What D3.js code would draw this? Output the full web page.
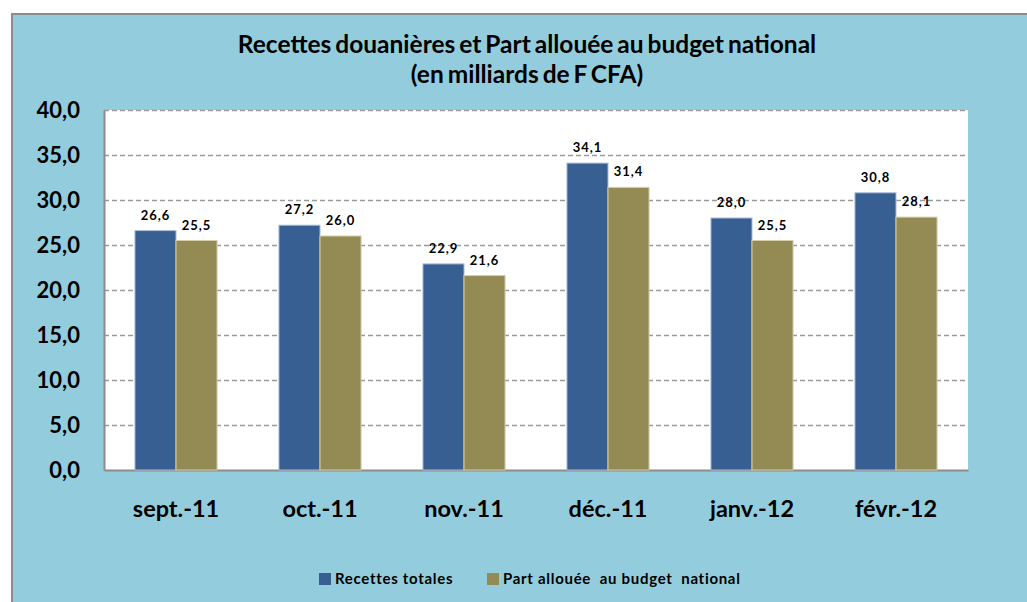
<!DOCTYPE html>
<html>
<head>
<meta charset="utf-8">
<script src="https://cdn.jsdelivr.net/npm/d3@7"></script>
<style>
  body { margin: 0; background: #ffffff; }
  text { font-family: Lato, "Open Sans", sans-serif; font-weight: bold; fill: #000; }
</style>
</head>
<body>
<div id="chart"></div>
<script>
// data
var months = ["sept.-11", "oct.-11", "nov.-11", "déc.-11", "janv.-12", "févr.-12"];
var seriesNames = ["Recettes totales", "Part allouée  au budget  national"];
var recettesTotales = [26.6, 27.2, 22.9, 34.1, 28.0, 30.8];
var partAllouee = [25.5, 26.0, 21.6, 31.4, 25.5, 28.1];
var yTicks = [0, 5, 10, 15, 20, 25, 30, 35, 40];
var colors = ["#375f91", "#948a54"];
var strokes = ["#a9bcd8", "#d4cfa8"];

var W = 1027, H = 602;
var plot = { left: 104, top: 110, right: 968, bottom: 470 };

var svg = d3.select("#chart").append("svg")
  .attr("width", W).attr("height", H);

// outer frame
svg.append("rect")
  .attr("x", 12).attr("y", 14)
  .attr("width", W + 10).attr("height", H)
  .attr("fill", "#93cddd")
  .attr("stroke", "#8c8c8c")
  .attr("stroke-width", 2);

// title
svg.append("text")
  .attr("x", 527).attr("y", 53)
  .attr("text-anchor", "middle")
  .attr("font-size", "24.5px")
  .attr("word-spacing", "-2px")
  .text("Recettes douanières et Part allouée au budget national");
svg.append("text")
  .attr("x", 527).attr("y", 83)
  .attr("text-anchor", "middle")
  .attr("font-size", "24.5px")
  .attr("word-spacing", "-2px")
  .text("(en milliards de F CFA)");

// plot area
svg.append("rect")
  .attr("x", plot.left).attr("y", plot.top)
  .attr("width", plot.right - plot.left)
  .attr("height", plot.bottom - plot.top)
  .attr("fill", "#ffffff");

var x0 = d3.scaleBand().domain(months)
  .range([plot.left, plot.right]).paddingInner(0.43).paddingOuter(0.215);
var x1 = d3.scaleBand().domain([0, 1])
  .range([0, x0.bandwidth()]).padding(0);
var y = d3.scaleLinear().domain([0, 40]).range([plot.bottom, plot.top]);

// gridlines
svg.append("g").selectAll("line")
  .data(yTicks.filter(function(d) { return d > 0; }))
  .enter().append("line")
  .attr("x1", plot.left).attr("x2", plot.right)
  .attr("y1", function(d) { return y(d) + 0.5; })
  .attr("y2", function(d) { return y(d) + 0.5; })
  .attr("stroke", "#9a9a9a")
  .attr("stroke-width", 1.5)
  .attr("stroke-dasharray", "5,3");

// y axis
var yAxis = d3.axisLeft(y).tickValues(yTicks).tickSize(0).tickPadding(24)
  .tickFormat(function(d) { return d3.format(".1f")(d).replace(".", ","); });
var gy = svg.append("g")
  .attr("transform", "translate(" + plot.left + ",0)")
  .call(yAxis);
gy.select(".domain").attr("stroke", "#8c8c8c").attr("stroke-width", 2);
gy.selectAll("text").attr("font-size", "22px").attr("dy", "0.35em")
  .style("font-family", "Lato, sans-serif").style("font-weight", "bold").attr("fill", "#000");

// x axis
var xAxis = d3.axisBottom(x0).tickSize(0).tickPadding(30);
var gx = svg.append("g")
  .attr("transform", "translate(0," + plot.bottom + ")")
  .call(xAxis);
gx.select(".domain").attr("stroke", "#8c8c8c").attr("stroke-width", 2);
gx.selectAll("text").attr("font-size", "23.5px")
  .style("font-family", "Lato, sans-serif").style("font-weight", "bold").attr("fill", "#000");

// bars
var series = [recettesTotales, partAllouee];
series.forEach(function(vals, s) {
  var g = svg.append("g");
  g.selectAll("rect").data(vals).enter().append("rect")
    .attr("x", function(d, i) { return x0(months[i]) + x1(s); })
    .attr("y", function(d) { return y(d); })
    .attr("width", x1.bandwidth())
    .attr("height", function(d) { return y(0) - y(d); })
    .attr("fill", colors[s])
    .attr("stroke", strokes[s])
    .attr("stroke-width", 1);
  g.selectAll("text").data(vals).enter().append("text")
    .attr("x", function(d, i) { return x0(months[i]) + x1(s) + x1.bandwidth() / 2; })
    .attr("y", function(d) { return y(d) - 11; })
    .attr("text-anchor", "middle")
    .attr("font-size", "13px")
    .attr("letter-spacing", "1px")
    .text(function(d) { return d3.format(".1f")(d).replace(".", ","); });
});

// legend
var legendX = [319, 487];
seriesNames.forEach(function(name, s) {
  svg.append("rect")
    .attr("x", legendX[s]).attr("y", 573)
    .attr("width", 12).attr("height", 12)
    .attr("fill", colors[s]);
  svg.append("text")
    .attr("x", legendX[s] + 16).attr("y", 584)
    .attr("font-size", "15px")
    .attr("letter-spacing", "0.7px")
    .style("white-space", "pre")
    .attr("xml:space", "preserve")
    .text(name);
});
</script>
</body>
</html>
